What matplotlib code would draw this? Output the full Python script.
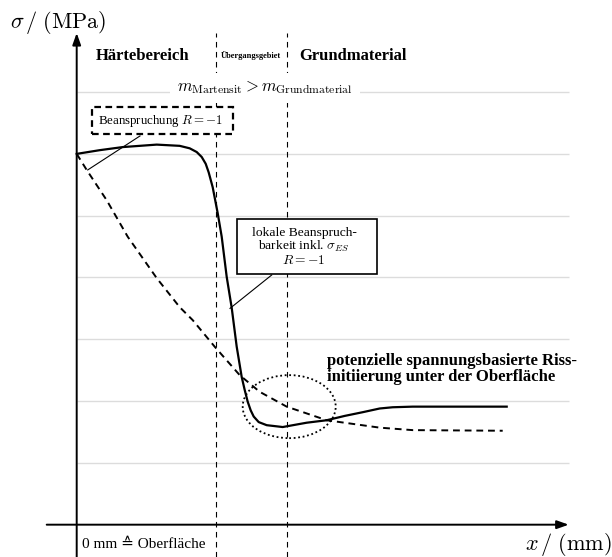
"""
Schematische Darstellung: Beanspruchung vs. lokale Beanspruchbarkeit
über dem Randabstand (Härtebereich / Übergangsgebiet / Grundmaterial).
"""

import matplotlib
matplotlib.use("Agg")
import matplotlib.pyplot as plt
from matplotlib.patches import Ellipse, Rectangle

plt.rcParams['font.family'] = ['Liberation Serif', 'DejaVu Serif', 'DejaVu Sans']
plt.rcParams['mathtext.fontset'] = 'cm'

# Lokale Beanspruchbarkeit inkl. Eigenspannungen (x in mm, sigma in MPa, schematisch)
x_bb = [0.0, 0.23, 0.46, 0.80, 1.03, 1.13, 1.20, 1.25, 1.29, 1.32, 1.34, 1.36,
        1.41, 1.45, 1.50, 1.55, 1.60, 1.65, 1.68, 1.71, 1.74, 1.77, 1.82, 1.90,
        2.06, 2.30, 2.50, 2.68, 2.86, 3.03, 3.16, 3.36, 4.30]
s_bb = [600, 606, 611, 615, 613, 609, 603, 595, 584, 570, 558, 546,
        504, 466, 401, 351, 288, 239, 218, 199, 185, 175, 166, 161,
        158, 165, 169, 176, 182, 188, 190, 191, 191]

# Beanspruchung R = -1
x_b = [0.0, 0.10, 0.30, 0.51, 0.80, 1.03, 1.16, 1.38, 1.63, 1.83, 2.10, 2.50,
       3.03, 3.36, 4.26]
s_b = [600, 574, 525, 466, 399, 352, 331, 288, 242, 215, 191, 169,
       157, 153, 152]

# Bereichsgrenzen und Hilfslinien
x_grenzen = [1.39, 2.10]
y_grid = [100, 200, 300, 400, 500, 600, 700]

W, H = 612, 557


def fxy(px, py):
    """Pixelposition (von oben links) -> Figure-Koordinaten."""
    return px / W, 1 - py / H


fig = plt.figure(figsize=(W / 100, H / 100), dpi=100)
ax = fig.add_axes([0, 0, 1, 1])
ax.set_xlim(-0.767, 5.353)
ax.set_ylim(-52.3, 849.0)
ax.axis('off')

# Hilfslinien
ax.hlines(y_grid, 0, 4.92, color='#dcdcdc', lw=1.0, zorder=0)
for xg in x_grenzen:
    ax.plot([xg, xg], [-52.3, 795], color='black', lw=0.8,
            dashes=(5, 4), zorder=1)

# Achsen mit Pfeilen
arrow = dict(arrowstyle='-|>,head_length=0.7,head_width=0.25', lw=1.4,
             color='black', shrinkA=0, shrinkB=0, mutation_scale=10)
ax.annotate('', xy=(0, 795.6), xytext=(0, -52.3), arrowprops=arrow)
ax.annotate('', xy=(4.92, 0), xytext=(-0.30, 0), arrowprops=arrow)

# Kurven
ax.plot(x_bb, s_bb, color='black', lw=1.6, zorder=3, solid_joinstyle='round')
ax.plot(x_b, s_b, color='black', lw=1.4, dashes=(3.5, 2.5), zorder=3)

# Bereich möglicher Rissinitiierung
ax.add_patch(Ellipse((2.125, 191), 0.93, 102, fill=False, ls=(0, (1, 1.5)),
                     lw=1.3, color='black', zorder=4))

# Achsenbeschriftungen
fig.text(*fxy(10, 22), r'$\sigma\,/\;(\mathrm{MPa})$', fontsize=16,
         ha='left', va='center')
fig.text(*fxy(612, 544), r'$x\,/\;(\mathrm{mm})$', fontsize=16,
         ha='right', va='center')
fig.text(*fxy(82, 545), '0 mm \u2259 Oberfläche', fontsize=11,
         ha='left', va='center')

# Bereiche
fig.text(*fxy(143, 56), 'Härtebereich', fontsize=12, fontweight='bold',
         ha='center', va='center')
fig.text(*fxy(251, 56), 'Übergangsgebiet', fontsize=6, fontweight='bold',
         ha='center', va='center')
fig.text(*fxy(353, 56), 'Grundmaterial', fontsize=12, fontweight='bold',
         ha='center', va='center')
fig.text(*fxy(265, 88),
         r'$m_{\mathrm{Martensit}} > m_{\mathrm{Grundmaterial}}$',
         fontsize=12, ha='center', va='center', zorder=5,
         bbox=dict(facecolor='white', edgecolor='none', pad=5))

# Kasten Beanspruchung
x0, y0 = fxy(91.7, 134.3)
x1, y1 = fxy(233.3, 107.3)
fig.add_artist(Rectangle((x0, y0), x1 - x0, y1 - y0, transform=fig.transFigure,
                         fill=True, facecolor='white', edgecolor='black',
                         lw=1.6, ls=(0, (3, 2)), zorder=5))
fig.text(*fxy(161, 121), r'Beanspruchung $R=-1$', fontsize=9.3,
         ha='center', va='center', zorder=6)
ax.plot([0.633, 0.11], [629, 574], color='black', lw=0.8, zorder=4)

# Kasten Beanspruchbarkeit
x0, y0 = fxy(237.3, 274)
x1, y1 = fxy(376.7, 219)
fig.add_artist(Rectangle((x0, y0), x1 - x0, y1 - y0, transform=fig.transFigure,
                         fill=True, facecolor='white', edgecolor='black',
                         lw=1.2, zorder=5))
fig.text(*fxy(304, 247), 'lokale Beanspruch-\nbarkeit inkl. $\\sigma_{ES}$\n$R=-1$',
         fontsize=9.7, ha='center', va='center', linespacing=1.0,
         multialignment='center', zorder=6)
ax.plot([1.95, 1.533], [404, 350], color='black', lw=0.8, zorder=4)

# Hinweis Rissinitiierung
fig.text(*fxy(327, 369),
         'potenzielle spannungsbasierte Riss-\ninitiierung unter der Oberfläche',
         fontsize=12, fontweight='bold', ha='left', va='center',
         linespacing=1.0)

fig.savefig('out.png', dpi=100)
plt.close(fig)
